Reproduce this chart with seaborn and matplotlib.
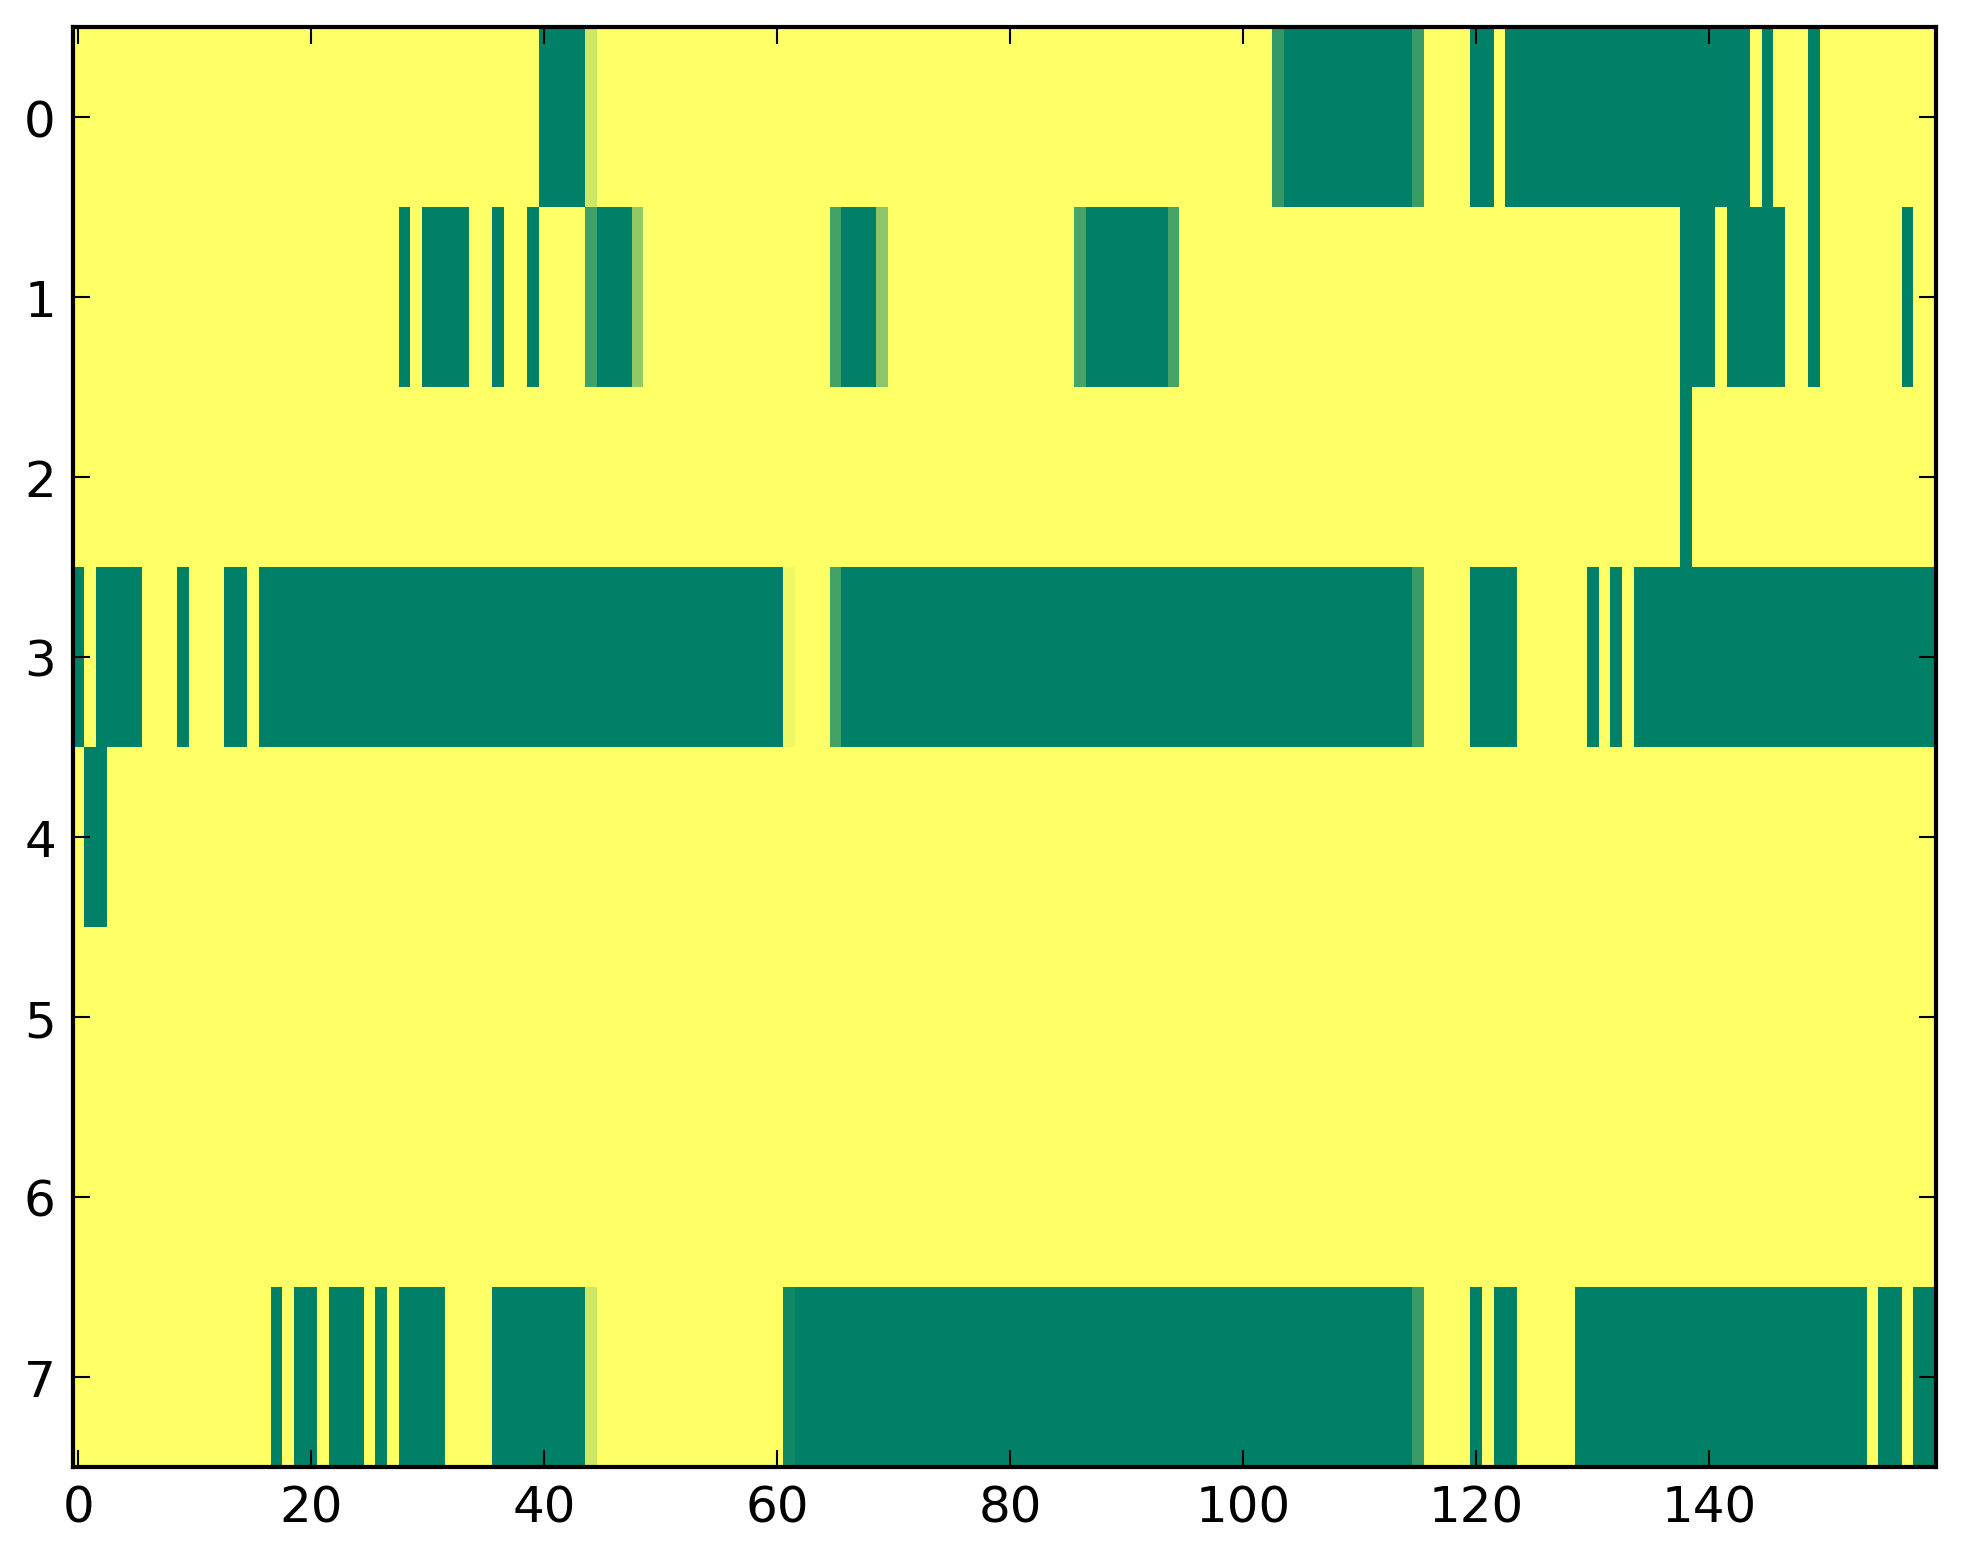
import numpy as np
import seaborn as sns
import matplotlib
matplotlib.use("Agg")
import matplotlib.pyplot as plt

n_rows = 8
n_cols = 160

# runs of columns (inclusive) where the value is 0, per row
row0_zero = [(40, 43), (104, 114), (120, 121), (123, 143), (145, 145), (149, 149)]
row1_zero = [(28, 28), (30, 33), (36, 36), (39, 39), (45, 47), (66, 68), (87, 93),
             (138, 140), (142, 146), (149, 149), (157, 157)]
row2_zero = [(138, 138)]
row3_zero = [(0, 0), (2, 5), (9, 9), (13, 14), (16, 60), (66, 114), (120, 123),
             (130, 130), (132, 132), (134, 159)]
row4_zero = [(1, 2)]
row5_zero = []
row6_zero = []
row7_zero = [(17, 17), (19, 20), (22, 24), (26, 26), (28, 31), (36, 43), (62, 114),
             (120, 120), (122, 123), (129, 153), (155, 156), (158, 159)]

# single cells with in-between values
row0_part = {44: 0.8, 103: 0.2, 115: 0.22}
row1_part = {44: 0.25, 48: 0.58, 65: 0.27, 69: 0.55, 86: 0.28, 94: 0.28}
row3_part = {61: 0.94, 65: 0.27, 115: 0.22}
row7_part = {44: 0.8, 61: 0.07, 115: 0.22}

zero_runs = [row0_zero, row1_zero, row2_zero, row3_zero,
             row4_zero, row5_zero, row6_zero, row7_zero]
partials = {0: row0_part, 1: row1_part, 3: row3_part, 7: row7_part}

x_ticks = [0, 20, 40, 60, 80, 100, 120, 140]
y_ticks = [0, 1, 2, 3, 4, 5, 6, 7]

data = np.ones((n_rows, n_cols))
for r, runs in enumerate(zero_runs):
    for a, b in runs:
        data[r, a:b + 1] = 0.0
for r, cells in partials.items():
    for c, v in cells.items():
        data[r, c] = v

dpi = 300
W, H = 1963, 1564
fig = plt.figure(figsize=(W / dpi, H / dpi), dpi=dpi)
ax = fig.add_axes([72.5 / W, 96 / H, 1864 / W, 1440 / H])

sns.heatmap(data, cmap="summer", vmin=0, vmax=1, cbar=False, ax=ax,
            linewidths=0, xticklabels=False, yticklabels=False)

ax.set_xlim(0, n_cols)
ax.set_ylim(n_rows, 0)
ax.set_xticks([t + 0.5 for t in x_ticks])
ax.set_xticklabels([str(t) for t in x_ticks], rotation=0)
ax.set_yticks([t + 0.5 for t in y_ticks])
ax.set_yticklabels([str(t) for t in y_ticks], rotation=0)

for s in ax.spines.values():
    s.set_visible(True)
    s.set_color("black")
    s.set_linewidth(1.0)

ax.tick_params(direction="in", length=4, width=0.5, top=True, right=True,
               labelsize=12, pad=4, colors="black")

fig.savefig("out.png", dpi=dpi)
